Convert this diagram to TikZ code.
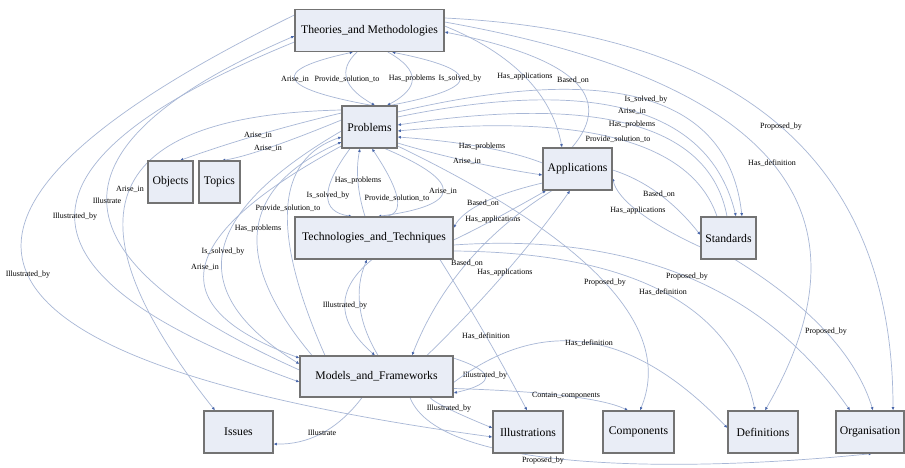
\documentclass[tikz,border=0pt]{standalone}
\usepackage{fontspec}
\setmainfont{Liberation Serif}
\usetikzlibrary{calc,arrows.meta}
\definecolor{edgec}{RGB}{168,183,214}
\definecolor{arrc}{RGB}{72,102,170}
\definecolor{boxfill}{RGB}{233,237,246}
\definecolor{boxline}{RGB}{115,115,115}
\pgfdeclarelayer{back}
\pgfdeclarelayer{edges}
\pgfsetlayers{back,edges,main}
% \lk[opts]{start}{end}{mid x,y}{label}: quadratic-like curve passing through mid
\newcommand{\lk}[5][]{%
  \draw[link,#1] let \p1=(#2), \p2=(#3), \p3=(#4) in
    (\p1) .. controls ({1.3333*\x3-0.3333*\x2},{1.3333*\y3-0.3333*\y2})
          and ({1.3333*\x3-0.3333*\x1},{1.3333*\y3-0.3333*\y1}) .. (\p2)
    node[lab,pos=0.5]{#5};}
\begin{document}
\begin{tikzpicture}[x=1pt,y=-1pt,
  box/.style={draw=boxline,line width=1.2pt,fill=boxfill,minimum height=42pt,
    inner sep=0pt,font=\fontsize{11.7}{14}\selectfont},
  link/.style={draw=edgec,line width=0.7pt,line cap=round,
    -{Latex[length=3.3pt,width=3pt,color=arrc]}},
  lab/.style={font=\fontsize{8}{9}\selectfont,inner sep=0.5pt,text=black}]
\begin{pgfonlayer}{back}
\fill[white] (0,0) rectangle (905,468);
\end{pgfonlayer}
\useasboundingbox (0,0) rectangle (905,468);

% nodes
\node[box,minimum width=149pt] (T) at (369.5,30.5) {Theories\_and Methodologies};
\node[box,minimum width=55pt] (P) at (369.5,127) {Problems};
\node[box,minimum width=45pt] (O) at (170.5,182) {Objects};
\node[box,minimum width=41pt] (Tp) at (219.5,182) {Topics};
\node[box,minimum width=69pt] (A) at (577.5,169) {Applications};
\node[box,minimum width=55pt] (S) at (728.5,238) {Standards};
\node[box,minimum width=158pt] (TT) at (374,238) {Technologies\_and\_Techniques};
\node[box,minimum width=153pt,minimum height=41pt] (M) at (376.5,376.5) {Models\_and\_Frameworks};
\node[box,minimum width=69pt] (I) at (238.5,432) {Issues};
\node[box,minimum width=70pt] (Il) at (528,432) {Illustrations};
\node[box,minimum width=71pt] (C) at (638.5,432) {Components};
\node[box,minimum width=70pt] (D) at (763,432) {Definitions};
\node[box,minimum width=68pt] (Og) at (870,432) {Organisation};

\begin{pgfonlayer}{edges}
% Theories - Problems
\lk{$(P.north)+(2.5,0)$}{$(T.south)+(-16.5,0)$}{295,79}{Arise\_in}
\lk{$(T.south)+(-12.5,0)$}{$(P.north)+(5.5,0)$}{347,79}{Provide\_solution\_to}
\lk{$(T.south)+(18.5,0)$}{$(P.north)+(17.5,0)$}{412,79}{Has\_problems}
\lk{$(P.north)+(20.5,0)$}{$(T.south)+(22.5,0)$}{460,79}{Is\_solved\_by}
% Theories - Applications
\lk{$(T.east)+(0,-4.5)$}{$(A.north)+(-15.5,0)$}{525,77}{Has\_applications}
\lk{$(A.north)+(-5.5,0)$}{$(T.east)+(0,1.5)$}{573,80}{Based\_on}
% Theories - Organisation, Definitions
\lk{$(T.east)+(0,-12.5)$}{$(Og.north)+(23,0)$}{781,127}{Proposed\_by}
\lk{$(T.east)+(0,-8.5)$}{$(D.north)+(2,0)$}{772,163}{Has\_definition}
% Problems - Standards
\lk{$(P.east)+(0,-15)$}{$(S.north)+(13.5,0)$}{646,100}{Is\_solved\_by}
\lk{$(P.east)+(0,-10)$}{$(S.north)+(7.5,0)$}{632,111}{Arise\_in}
\lk{$(S.north)+(-1.5,0)$}{$(P.east)+(0,-2)$}{632,125}{Has\_problems}
\lk{$(S.north)+(-11.5,0)$}{$(P.east)+(0,4)$}{618,139}{Provide\_solution\_to}
% Problems - Applications
\lk{$(A.west)+(0,-6)$}{$(P.east)+(0,10)$}{482,147}{Has\_problems}
\lk{$(P.east)+(0,16)$}{$(A.west)+(0,6)$}{467,161}{Arise\_in}
% Problems - Objects, Topics, Issues
\lk{$(P.west)+(0,-14)$}{$(O.north)+(9.5,0)$}{258,135}{Arise\_in}
\lk{$(P.west)+(0,-7)$}{$(Tp.north)+(2.5,0)$}{268,148}{Arise\_in}
\lk{$(P.west)+(0,-17)$}{$(I.north)+(-23.5,0)$}{130,189}{Arise\_in}
% left arcs
\lk{$(M.west)+(0,-6.5)$}{$(T.west)+(0,5.5)$}{107,201}{Illustrate}
\lk{$(T.west)+(0,11.5)$}{$(M.west)+(0,5.5)$}{75,217}{Illustrated\_by}
\lk{$(T.west)+(0,-15.5)$}{$(Il.west)+(0,5)$}{28,275}{Illustrated\_by}
% Problems - Models
\lk{$(P.west)+(0,19)$}{$(M.west)+(0,-18.5)$}{205,267}{Arise\_in}
\lk{$(P.west)+(0,4)$}{$(M.west)+(0,-12.5)$}{223,252}{Is\_solved\_by}
\lk{$(M.north)+(-64.5,0)$}{$(P.west)+(0,15)$}{258,229}{Has\_problems}
\lk{$(M.north)+(-51.5,0)$}{$(P.west)+(0,10)$}{288,208}{Provide\_solution\_to}
% Problems - Technologies
\lk{$(TT.north)+(-9,0)$}{$(P.south)+(-9.5,0)$}{358,181}{Has\_problems}
\lk{$(TT.north)+(11,0)$}{$(P.south)+(2.5,0)$}{397,198}{Provide\_solution\_to}
\lk{$(P.south)+(-19.5,0)$}{$(TT.north)+(-22,0)$}{328,196}{Is\_solved\_by}
\lk{$(P.south)+(15.5,0)$}{$(TT.north)+(4,0)$}{443,191}{Arise\_in}
% Technologies - Applications
\lk{$(A.west)+(0,14)$}{$(TT.east)+(0,-10)$}{483,203}{Based\_on}
\lk{$(TT.east)+(0,2)$}{$(A.south)+(-31.5,0)$}{493,220}{Has\_applications}
% Applications - Models
\lk{$(A.south)+(-25.5,0)$}{$(M.north)+(35.5,0)$}{467,263}{Based\_on}
\lk{$(M.north)+(50.5,0)$}{$(A.south)+(-7.5,0)$}{505,273}{Has\_applications}
% Technologies - Models
\lk{$(TT.south)+(-2,0)$}{$(M.north)+(-1.5,0)$}{345,306}{Illustrated\_by}
\lk{$(M.north)+(1.5,0)$}{$(TT.south)+(-7,0)$}{360,306}{}
% Technologies - Illustrations
\lk{$(TT.south)+(66,0)$}{$(Il.north)+(-1,0)$}{486,336}{Has\_definition}
% Problems - Components
\lk{$(P.east)+(0,19)$}{$(C.north)+(1.5,0)$}{605,283}{Proposed\_by}
% Technologies - Organisation, Definitions
\lk{$(TT.east)+(0,7)$}{$(Og.north)+(-20,0)$}{687,277}{Proposed\_by}
\lk{$(TT.east)+(0,13)$}{$(D.north)+(-8,0)$}{663,292}{Has\_definition}
% Standards - Organisation
\lk{$(S.south)+(6.5,0)$}{$(Og.north)+(3,0)$}{826,332}{Proposed\_by}
% Applications - Standards
\lk{$(A.east)+(0,1)$}{$(S.west)+(0,-3)$}{659,194}{Based\_on}
\lk{$(S.west)+(0,9)$}{$(A.east)+(0,9)$}{638,211}{Has\_applications}
% Models
\lk{$(M.north)+(68.5,0)$}{$(M.east)+(0,16.5)$}{485,376}{Illustrated\_by}
\lk{$(M.east)+(0,6)$}{$(D.west)+(0,-4)$}{589,343}{Has\_definition}
\lk{$(M.east)+(0,12)$}{$(C.north)+(-10.5,0)$}{566,396}{Contain\_components}
\lk{$(M.south)+(53.5,0)$}{$(Il.west)+(0,-4)$}{449,409}{Illustrated\_by}
\lk{$(M.south)+(-14.5,0)$}{$(I.east)+(0,12)$}{322,433}{Illustrate}
\draw[link] ($(M.south)+(33.5,0)$) .. controls (440,474) and (690,472) ..
  ($(Og.south)+(2,0)$) node[lab,pos=0.42,yshift=-4pt]{Proposed\_by};
\end{pgfonlayer}
\end{tikzpicture}
\end{document}
